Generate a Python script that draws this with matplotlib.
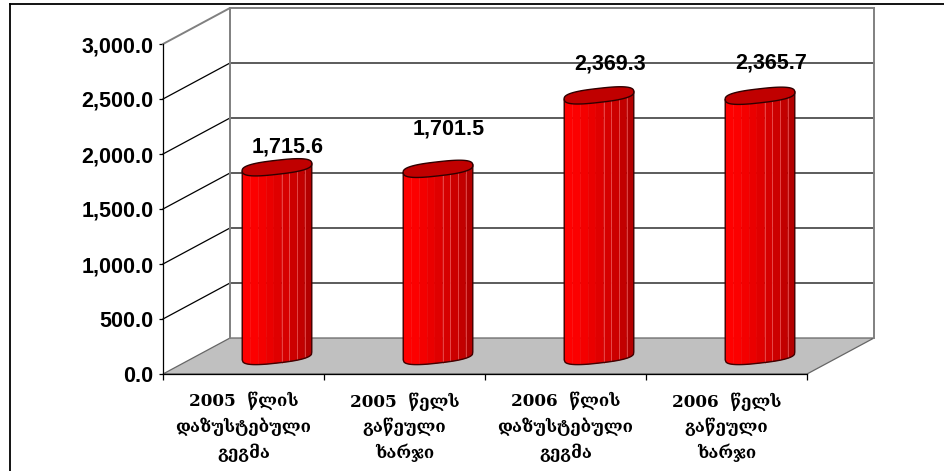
#!/usr/bin/env python
"""3D-look cylinder column chart, drawn on a flat axes with a depth offset."""
import numpy as np
import matplotlib
matplotlib.use("Agg")
import matplotlib.pyplot as plt
from matplotlib.lines import Line2D
from matplotlib.patches import Polygon

categories = ["2005  წლის\nდაზუსტებული\nგეგმა", "2005  წელს\nგაწეული\nხარჯი",
              "2006  წლის\nდაზუსტებული\nგეგმა", "2006  წელს\nგაწეული\nხარჯი"]
values = [1715.6, 1701.5, 2369.3, 2365.7]
value_labels = ["1,715.6", "1,701.5", "2,369.3", "2,365.7"]
yticks = [0, 500, 1000, 1500, 2000, 2500, 3000]
ytick_labels = ["0.0", "500.0", "1,000.0", "1,500.0", "2,000.0", "2,500.0", "3,000.0"]
label_lift = [20, 40, 31, 33]      # px between cylinder top and its label
strip_colors = ["#FF0000", "#FC0000", "#F40000", "#EA0000", "#E00000", "#D60000", "#CC0000", "#C20000", "#B40000"]

W, H = 945, 471
X0, X1, Y0, Y1 = 163, 807, 374, 44    # front plane, pixels
DX, DY = 67, 36                       # depth of the box, pixels
SQ = 2.7                              # superellipse exponent of the cylinder section

fig = plt.figure(figsize=(W / 100, H / 100), dpi=100, facecolor="white")
ax = fig.add_axes([X0 / W, 1 - Y0 / H, (X1 - X0) / W, (Y0 - Y1) / H])
ax.set_xlim(0, len(values)); ax.set_ylim(0, yticks[-1])
ax.patch.set_visible(False)
for s in ("top", "right"):
    ax.spines[s].set_visible(False)
for s in ("left", "bottom"):
    ax.spines[s].set_linewidth(0.9); ax.spines[s].set_zorder(6)

ux = len(values) / (X1 - X0)          # data units per pixel
uy = yticks[-1] / (Y0 - Y1)
dx, dy = DX * ux, DY * uy
xmax, ymax = len(values), yticks[-1]

# floor, back wall and side wall
ax.add_patch(Polygon([(0, 0), (xmax, 0), (xmax + dx, dy), (dx, dy)], closed=True, fc="#C0C0C0",
                     ec="#666666", lw=0.9, clip_on=False, zorder=1))
for v in yticks[1:]:
    if v == ymax:
        ax.plot([0, dx, xmax + dx], [v, v + dy, v + dy], color="#808080", lw=1.4, clip_on=False, zorder=2)
    else:
        ax.plot([0, dx, xmax + dx], [v, v + dy, v + dy], color="black", lw=0.9, clip_on=False, zorder=2)
ax.plot([dx, dx], [dy, ymax + dy], color="#808080", lw=1.4, clip_on=False, zorder=2)
ax.plot([xmax + dx, xmax + dx], [dy, ymax + dy], color="#808080", lw=1.4, clip_on=False, zorder=2)


def ring(cx, cy, t, a=35.0, b=7.0, tilt=np.radians(6.5)):
    """Points on the tilted section of a cylinder, pixel radii -> data units."""
    c, s = np.cos(t), np.sin(t)
    c = np.sign(c) * np.abs(c) ** (2 / SQ)
    s = np.sign(s) * np.abs(s) ** (2 / SQ)
    px = a * c * np.cos(tilt) - b * s * np.sin(tilt)
    py = a * c * np.sin(tilt) + b * s * np.cos(tilt)
    return cx + px * ux, cy + py * uy


def front_t(x):
    """Angle on the front half for x in -1..1 across the cylinder."""
    return 2 * np.pi - np.arccos(np.sign(x) * np.abs(x) ** (SQ / 2))


front = front_t(np.linspace(-1, 1, 121))
n = len(strip_colors)
edges = np.linspace(-1, 1, n + 1)
for i, v in enumerate(values):
    cx, cy = i + 0.5 + dx / 2, dy / 2
    # side surface as vertical strips
    for k in range(n):
        t = front_t(np.linspace(edges[k], edges[k + 1], 12))
        xb, yb = ring(cx, cy, t)
        xt, yt = ring(cx, cy + v, t)
        ax.add_patch(Polygon(np.r_[np.c_[xb, yb], np.c_[xt, yt][::-1]], closed=True, fc=strip_colors[k],
                             ec=strip_colors[k], lw=0.3, clip_on=False, zorder=3))
        if k >= 5:      # pale seams on the shaded half
            ax.plot([xb[0], xt[0]], [yb[0], yt[0]], color="#F06060", lw=0.5, clip_on=False, zorder=3.5)
    xb, yb = ring(cx, cy, front)
    xt, yt = ring(cx, cy + v, front)
    ax.plot(np.r_[xt[0], xb, xt[-1]], np.r_[yt[0], yb, yt[-1]], color="#400000", lw=1.0, clip_on=False, zorder=4)
    xc, yc = ring(cx, cy + v, np.linspace(0, 2 * np.pi, 161))
    ax.add_patch(Polygon(np.c_[xc, yc], closed=True, fc="#C00000", ec="#300000", lw=1.0, clip_on=False, zorder=5))
    ax.annotate(value_labels[i], (cx + 11 * ux, cy + v + label_lift[i] * uy), ha="center", va="center",
                fontsize=15.5, fontweight="bold", family="Liberation Sans", annotation_clip=False, zorder=7)

ax.set_yticks(yticks, ytick_labels, fontsize=15.5, fontweight="bold", family="Liberation Sans")
ax.tick_params(axis="y", length=3, width=0.9, pad=4)
ax.set_xticks(range(len(values) + 1), [""] * (len(values) + 1))
ax.tick_params(axis="x", which="major", length=4, width=0.9)
ax.set_xticks(np.arange(len(values)) + 0.5, categories, minor=True, fontsize=12.2, fontweight="bold",
              family=["DejaVu Serif", "DejaVu Sans"], linespacing=1.5)
ax.tick_params(axis="x", which="minor", length=0, pad=13)

# frame of the original: only its top and left edges fall inside the picture
fig.add_artist(Line2D([10 / W, 1], [1 - 4 / H, 1 - 4 / H], transform=fig.transFigure, color="black", lw=1.3))
fig.add_artist(Line2D([10 / W, 10 / W], [0, 1 - 4 / H], transform=fig.transFigure, color="black", lw=1.3))

fig.savefig("out.png", dpi=100)
